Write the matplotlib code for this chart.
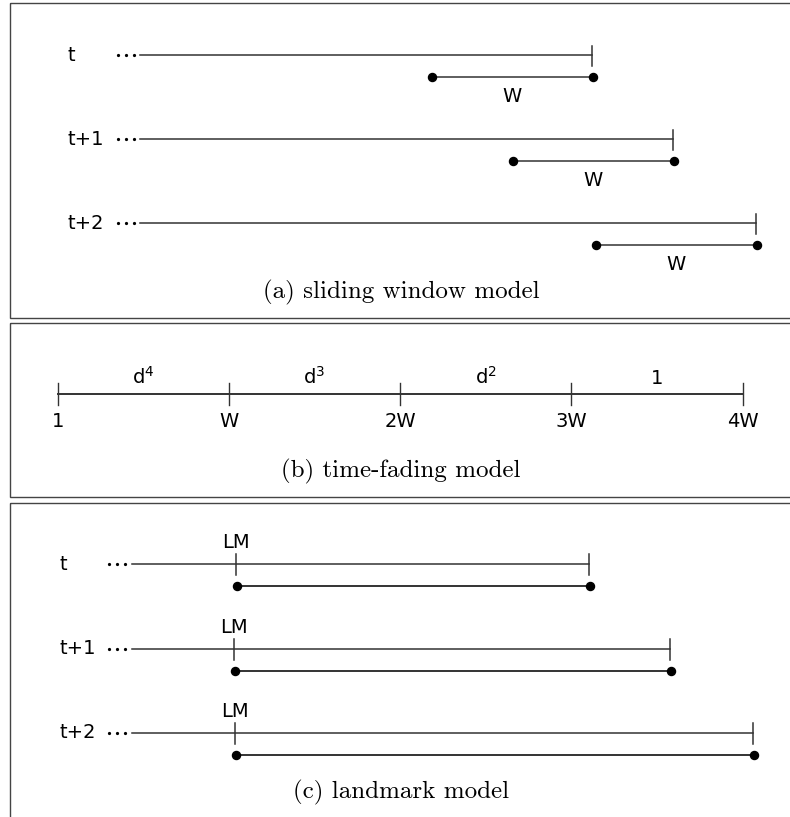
import matplotlib.pyplot as plt
from matplotlib.patches import Rectangle

# dados do diagrama (em pixels da figura)
# (a) janela deslizante
linhas_a = ['t', 't+1', 't+2']
y_a = [55, 139, 223]
inicio_a = 140
fim_a = [592, 673, 756]
janela_ini_a = [432, 513, 596]

# (b) decaimento no tempo
marcas_b = [58, 229, 400, 571, 743]
rotulos_b = ['1', 'W', '2W', '3W', '4W']
pesos_b = ['d$^{4}$', 'd$^{3}$', 'd$^{2}$', '1']
y_b = 394

# (c) landmark
linhas_c = ['t', 't+1', 't+2']
y_c = [564, 649, 733]
inicio_c = 132
fim_c = [589, 670, 753]
lm_c = [236, 234, 235]

legendas = ['(a) sliding window model', '(b) time-fading model', '(c) landmark model']
y_legendas = [292, 471, 792]
caixas = [(3, 318), (323, 497), (503, 840)]

cor = '#333333'
fs = 14

plt.rcParams['mathtext.fontset'] = 'dejavusans'

fig = plt.figure(figsize=(7.9, 8.17), dpi=100)
ax = fig.add_axes([0, 0, 1, 1])
ax.set_xlim(0, 790)
ax.set_ylim(817, 0)
ax.axis('off')

# molduras
for topo, base in caixas:
    ax.add_patch(Rectangle((10, topo), 800, base - topo, fill=False,
                           edgecolor='#444444', lw=1.0, clip_on=False))

for txt, y in zip(legendas, y_legendas):
    ax.text(401, y, txt, family='cmr10', fontsize=18, ha='center', va='center')

# (a)
for nome, y, fim, ini in zip(linhas_a, y_a, fim_a, janela_ini_a):
    ax.text(67, y, nome, fontsize=fs, ha='left', va='center')
    ax.plot([118, 126, 134], [y, y, y], 'o', color='k', ms=1.3)
    ax.plot([inicio_a, fim], [y, y], color=cor, lw=1.1)
    ax.plot([fim, fim], [y - 9, y + 11], color=cor, lw=1.1)
    yw = y + 22
    ax.plot([ini, fim + 1], [yw, yw], color=cor, lw=1.1, marker='o', ms=5.8,
            mfc='k', mec='k')
    ax.text((ini + fim) / 2, y + 41, 'W', fontsize=fs, ha='center', va='center')

# (b)
ax.plot([marcas_b[0], marcas_b[-1]], [y_b, y_b], color=cor, lw=1.4)
for x, r in zip(marcas_b, rotulos_b):
    ax.plot([x, x], [y_b - 11, y_b + 11], color=cor, lw=1.0)
    ax.text(x, y_b + 18, r, fontsize=fs, ha='center', va='top')
for i, p in enumerate(pesos_b):
    xm = (marcas_b[i] + marcas_b[i + 1]) / 2
    ax.text(xm, y_b - 6, p, fontsize=fs, ha='center', va='bottom')

# (c)
for nome, y, fim, lm in zip(linhas_c, y_c, fim_c, lm_c):
    ax.text(60, y, nome, fontsize=fs, ha='left', va='center')
    ax.plot([109, 117, 125], [y, y, y], 'o', color='k', ms=1.3)
    ax.plot([inicio_c, fim], [y, y], color=cor, lw=1.1)
    ax.plot([fim, fim], [y - 10, y + 11], color=cor, lw=1.1)
    ax.plot([lm, lm], [y - 10, y + 11], color=cor, lw=1.1)
    ax.text(lm, y - 12, 'LM', fontsize=fs, ha='center', va='bottom')
    yl = y + 22
    ax.plot([lm + 1, fim + 1], [yl, yl], color=cor, lw=1.4, marker='o', ms=5.8,
            mfc='k', mec='k')

fig.savefig('out.png', dpi=100)
